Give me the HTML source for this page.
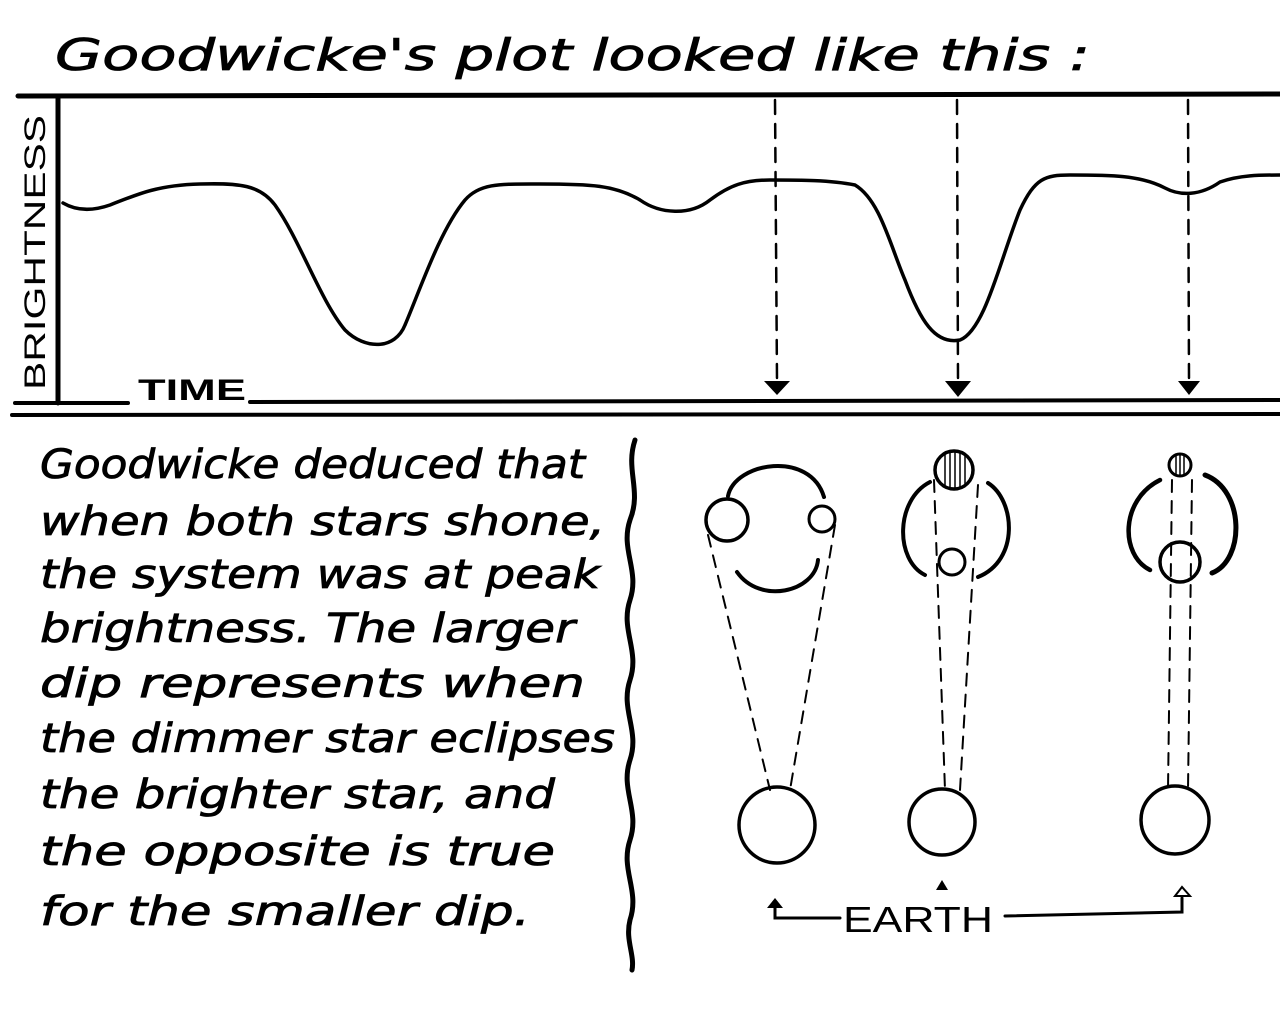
<!DOCTYPE html>
<html><head><meta charset="utf-8"><style>
html,body{margin:0;padding:0;background:#fff;}
svg{display:block;}
.h{font-family:"DejaVu Sans","Liberation Sans",sans-serif;font-style:oblique;font-weight:normal;fill:#000;stroke:#000;stroke-width:0.8;}
</style></head><body>
<svg width="1280" height="1016" viewBox="0 0 1280 1016" xmlns="http://www.w3.org/2000/svg">
<rect width="1280" height="1016" fill="#fff"/>
<text class="h" x="55" y="70" font-size="44" textLength="1035" lengthAdjust="spacingAndGlyphs">Goodwicke's plot looked like this :</text>
<g stroke="#000" fill="none" stroke-linecap="round">
<line x1="18" y1="96" x2="1280" y2="94" stroke-width="5"/>
<line x1="58" y1="96" x2="58" y2="403" stroke-width="5"/>
<line x1="15" y1="403" x2="128" y2="403" stroke-width="4"/>
<line x1="250" y1="402" x2="1280" y2="400" stroke-width="4"/>
<line x1="12" y1="415" x2="1280" y2="414" stroke-width="4"/>
<path d="M63,203 C75,210 90,212 110,205 C140,193 160,185 200,184 C240,183 260,185 275,205 C300,240 320,300 345,330 C365,350 395,350 405,325 C420,290 440,230 465,200 C480,183 500,184 540,184 C590,184 615,185 640,200 C660,214 690,216 710,200 C730,185 745,180 770,180 C800,180 830,180 855,185 C880,200 890,245 905,280 C920,320 935,345 960,340 C985,330 1000,260 1020,210 C1035,178 1045,175 1070,175 C1110,175 1140,175 1165,188 C1180,196 1200,196 1220,182 C1240,175 1260,175 1280,175" stroke-width="3.5"/>
<g stroke-width="2.5" stroke-dasharray="14,10">
<line x1="775" y1="100" x2="777" y2="380"/>
<line x1="957" y1="100" x2="958" y2="380"/>
<line x1="1188" y1="100" x2="1189" y2="380"/>
</g>
<path d="M635,440 C625,470 642,490 630,520 C620,550 640,570 630,600 C620,630 640,650 630,680 C620,710 640,730 630,760 C620,790 640,810 630,840 C620,870 640,890 630,920 C625,940 635,955 632,970" stroke-width="5"/>
<!-- column 1 -->
<circle cx="727" cy="520" r="21" stroke-width="3.5"/>
<circle cx="822" cy="519" r="13" stroke-width="3"/>
<path d="M728,496 C735,462 810,450 824,497" stroke-width="4"/>
<path d="M737,572 C760,605 815,592 818,560" stroke-width="4"/>
<circle cx="777" cy="825" r="38" stroke-width="3.5"/>
<g stroke-width="2" stroke-dasharray="12,9"><line x1="708" y1="535" x2="770" y2="790"/><line x1="835" y1="525" x2="790" y2="790"/></g>
<!-- column 2 -->
<circle cx="954" cy="470" r="19" stroke-width="3.5"/>
<g stroke-width="1.5"><line x1="945" y1="455" x2="945" y2="485"/><line x1="950" y1="452" x2="950" y2="488"/><line x1="955" y1="451" x2="955" y2="489"/><line x1="960" y1="452" x2="960" y2="488"/><line x1="965" y1="455" x2="965" y2="485"/></g>
<path d="M930,482 C895,500 895,560 925,575" stroke-width="4"/>
<path d="M988,483 C1015,500 1020,560 978,577" stroke-width="4"/>
<circle cx="952" cy="562" r="13" stroke-width="3"/>
<circle cx="942" cy="822" r="33" stroke-width="3.5"/>
<g stroke-width="2" stroke-dasharray="12,9"><line x1="934" y1="480" x2="945" y2="790"/><line x1="978" y1="485" x2="960" y2="790"/></g>
<!-- column 3 -->
<circle cx="1180" cy="465" r="11" stroke-width="3"/>
<g stroke-width="1.5"><line x1="1176" y1="456" x2="1176" y2="474"/><line x1="1180" y1="454" x2="1180" y2="476"/><line x1="1184" y1="456" x2="1184" y2="474"/></g>
<path d="M1160,480 C1120,500 1120,555 1150,570" stroke-width="4.5"/>
<path d="M1205,475 C1245,490 1245,560 1212,573" stroke-width="5"/>
<circle cx="1180" cy="562" r="20" stroke-width="3.5"/>
<circle cx="1175" cy="820" r="34" stroke-width="3.5"/>
<g stroke-width="2" stroke-dasharray="12,9"><line x1="1172" y1="480" x2="1168" y2="790"/><line x1="1192" y1="480" x2="1188" y2="790"/></g>
<!-- earth arrows -->
<path d="M840,918 L775,918 L775,906" stroke-width="3"/>
<path d="M1005,916 L1182,912 L1182,898" stroke-width="3"/>
</g>
<g fill="#000">
<polygon points="764,381 790,381 777,395"/>
<polygon points="945,381 971,381 958,397"/>
<polygon points="1178,381 1200,381 1189,395"/>
<polygon points="767,908 783,908 775,898"/>
<polygon points="936,890 948,890 942,880"/>
<polygon points="1175,896 1190,896 1182,887" fill="none" stroke="#000" stroke-width="2"/>
</g>
<text x="45" y="390" transform="rotate(-90 45 390)" font-family="Liberation Sans,sans-serif" font-size="30" textLength="275" lengthAdjust="spacingAndGlyphs">BRIGHTNESS</text>
<text x="138" y="400" font-family="Liberation Sans,sans-serif" font-weight="bold" font-size="30" textLength="108" lengthAdjust="spacingAndGlyphs">TIME</text>
<text x="843" y="932" font-family="Liberation Sans,sans-serif" font-size="36" textLength="150" lengthAdjust="spacingAndGlyphs">EARTH</text>
<g class="h" font-size="40">
<text x="40" y="478" textLength="545" lengthAdjust="spacingAndGlyphs">Goodwicke deduced that</text>
<text x="40" y="535" textLength="565" lengthAdjust="spacingAndGlyphs">when both stars shone,</text>
<text x="40" y="588" textLength="560" lengthAdjust="spacingAndGlyphs">the system was at peak</text>
<text x="40" y="642" textLength="535" lengthAdjust="spacingAndGlyphs">brightness. The larger</text>
<text x="40" y="697" textLength="545" lengthAdjust="spacingAndGlyphs">dip represents when</text>
<text x="40" y="752" textLength="575" lengthAdjust="spacingAndGlyphs">the dimmer star eclipses</text>
<text x="40" y="808" textLength="515" lengthAdjust="spacingAndGlyphs">the brighter star, and</text>
<text x="40" y="865" textLength="515" lengthAdjust="spacingAndGlyphs">the opposite is true</text>
<text x="40" y="925" textLength="490" lengthAdjust="spacingAndGlyphs">for the smaller dip.</text>
</g>
</svg>
</body></html>
